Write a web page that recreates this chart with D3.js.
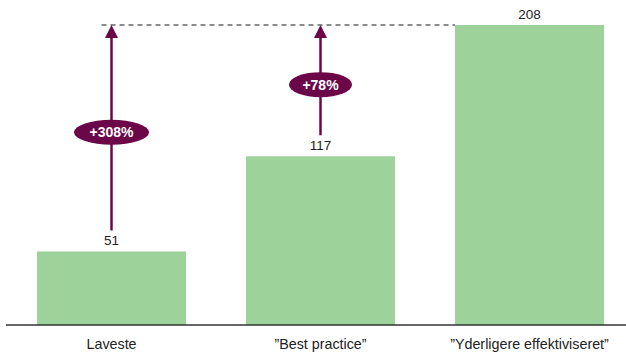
<!DOCTYPE html>
<html>
<head>
<meta charset="utf-8">
<script src="https://cdn.jsdelivr.net/npm/d3@7"></script>
<style>
  html, body { margin: 0; padding: 0; background: #fff; }
  svg { display: block; }
  text { font-family: "Liberation Sans", Arial, Helvetica, sans-serif; }
</style>
</head>
<body>
<svg id="chart" width="626" height="354"></svg>
<script>
// Scenario labels and their values
const categories = ["Laveste", "\u201DBest practice\u201D", "\u201DYderligere effektiviseret\u201D"];
const values = [51, 117, 208];

const W = 626, H = 354;
const baseY = 325;
const svg = d3.select("#chart");

const x = d3.scaleBand()
  .domain(categories)
  .range([37, 604])
  .paddingInner(0.287)
  .paddingOuter(0);

const y = d3.scaleLinear()
  .domain([0, 208])
  .range([baseY, 25]);

const green = "#9dd29b";
const purple = "#6b0748";
const ink = "#222";

// Bars
svg.selectAll("rect.bar")
  .data(categories)
  .enter().append("rect")
  .attr("class", "bar")
  .attr("x", d => x(d))
  .attr("y", (d, i) => y(values[i]))
  .attr("width", x.bandwidth())
  .attr("height", (d, i) => baseY - y(values[i]))
  .attr("fill", green);

// Value labels above bars
svg.selectAll("text.val")
  .data(categories)
  .enter().append("text")
  .attr("class", "val")
  .attr("x", d => x(d) + x.bandwidth() / 2)
  .attr("y", (d, i) => y(values[i]) - 6)
  .attr("text-anchor", "middle")
  .attr("font-size", 13.5)
  .attr("fill", ink)
  .text((d, i) => values[i]);

// Baseline axis
const xAxis = d3.axisBottom(x).tickSize(0).tickPadding(14);
const ax = svg.append("g")
  .attr("transform", `translate(0,${baseY})`)
  .call(xAxis);
ax.select(".domain").remove();
ax.selectAll("text")
  .attr("font-size", 14.3)
  .attr("fill", ink)
  .style("font-family", "'Liberation Sans', Arial, Helvetica, sans-serif");
svg.append("line")
  .attr("x1", 6).attr("x2", W)
  .attr("y1", baseY).attr("y2", baseY)
  .attr("stroke", "#333").attr("stroke-width", 1.3);

// Dashed reference line at the highest value
const maxVal = d3.max(values);
const topCat = categories[values.indexOf(maxVal)];
svg.append("line")
  .attr("x1", x(categories[0]) + x.bandwidth() / 2 - 10)
  .attr("x2", x(topCat))
  .attr("y1", y(maxVal)).attr("y2", y(maxVal))
  .attr("stroke", "#666")
  .attr("stroke-width", 1.3)
  .attr("stroke-dasharray", "5,4");

// Growth arrows from each lower scenario up to the top level
const arrowCats = categories.filter((c, i) => values[i] < maxVal);
arrowCats.forEach(c => {
  const i = categories.indexOf(c);
  const cx = x(c) + x.bandwidth() / 2;
  const y0 = y(values[i]) - 21;
  const yTop = y(maxVal);
  const headH = 13, headW = 6.5;

  svg.append("line")
    .attr("x1", cx).attr("x2", cx)
    .attr("y1", y0).attr("y2", yTop + headH - 1)
    .attr("stroke", purple)
    .attr("stroke-width", 2.5);

  svg.append("path")
    .attr("d", `M${cx},${yTop} L${cx - headW},${yTop + headH} L${cx + headW},${yTop + headH} Z`)
    .attr("fill", purple);

  const pct = Math.round((maxVal / values[i] - 1) * 100);
  const label = "+" + pct + "%";
  const ey = (y(values[i]) + yTop) / 2 - 6;
  const rx = label.length > 4 ? 37.5 : 31.5;

  svg.append("ellipse")
    .attr("cx", cx).attr("cy", ey)
    .attr("rx", rx).attr("ry", 12.5)
    .attr("fill", purple);

  svg.append("text")
    .attr("x", cx).attr("y", ey + 5)
    .attr("text-anchor", "middle")
    .attr("font-size", 14)
    .attr("font-weight", "bold")
    .attr("fill", "#fff")
    .text(label);
});
</script>
</body>
</html>
